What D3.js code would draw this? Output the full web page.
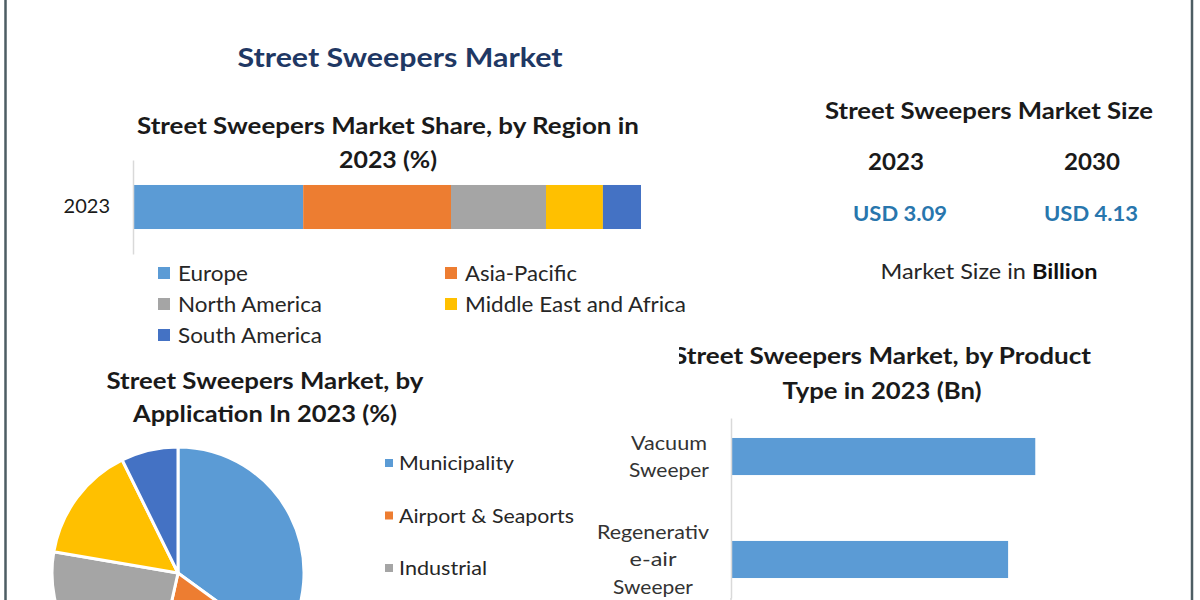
<!DOCTYPE html>
<html><head><meta charset="utf-8">
<script src="https://cdn.jsdelivr.net/npm/d3@7"></script>
<style>html,body{margin:0;padding:0;background:#fff;}svg{display:block;}</style>
</head><body>
<script>
// ---------- DATA ----------
const regionYear = ["2023"];
const regions = ["Europe", "Asia-Pacific", "North America", "Middle East and Africa", "South America"];
const regionShare = [33.5, 29.1, 18.7, 11.2, 7.5];

const sizeYears = ["2023", "2030"];
const sizeValues = ["USD 3.09", "USD 4.13"];

// only the first three application names are visible in the picture
const applications = ["Municipality", "Airport & Seaports", "Industrial"];
const applicationShare = [35.0, 18.5, 24.2, 15.0, 7.3];

const productTypes = ["Vacuum Sweeper", "Regenerative-air Sweeper"];
const productLabelLines = [["Vacuum", "Sweeper"], ["Regenerativ", "e-air", "Sweeper"]];
const productValues = [1.12, 1.02];

const palette = ["#5b9bd5", "#ed7d31", "#a5a5a5", "#ffc000", "#4472c4"];

// ---------- SETUP ----------
const W = 1200, H = 600;
const FONT = "Lato, 'Open Sans', sans-serif";
const svg = d3.select("body").append("svg").attr("width", W).attr("height", H);
svg.append("rect").attr("width", W).attr("height", H).attr("fill", "#fff");

function txt(g, s, x, y, opt) {
  const t = g.append("text").attr("x", x).attr("y", y).text(s)
    .attr("font-family", FONT)
    .attr("font-size", opt.size || 20)
    .attr("font-weight", opt.bold ? 700 : 400)
    .attr("fill", opt.fill || "#1a1a1a")
    .attr("text-anchor", opt.anchor || "start");
  if (opt.len) t.attr("textLength", opt.len).attr("lengthAdjust", "spacingAndGlyphs");
  return t;
}

// borders
svg.append("line").attr("x1", 5.5).attr("x2", 5.5).attr("y1", 0).attr("y2", H).attr("stroke", "#4d5d63").attr("stroke-width", 2.5);
svg.append("line").attr("x1", 1192).attr("x2", 1192).attr("y1", 0).attr("y2", H).attr("stroke", "#4d5d63").attr("stroke-width", 2.5);

// main title
txt(svg, "Street Sweepers Market", 400, 67, {size: 27, bold: true, fill: "#1f3864", anchor: "middle", len: 325});

// ---------- REGION STACKED BAR ----------
txt(svg, "Street Sweepers Market Share, by Region in", 388, 134, {size: 22, bold: true, anchor: "middle", len: 502});
txt(svg, "2023 (%)", 388, 168, {size: 22, bold: true, anchor: "middle", len: 98});

const xR = d3.scaleLinear().domain([0, 100]).range([133, 641]);
const yR = d3.scaleBand().domain(regionYear).range([160, 254]).padding(0.362);

const stackData = [Object.fromEntries(regions.map((r, i) => [r, regionShare[i]]))];
stackData[0].year = regionYear[0];
const series = d3.stack().keys(regions)(stackData);
svg.append("g").selectAll("rect").data(series).join("rect")
  .attr("x", d => xR(d[0][0]))
  .attr("width", d => xR(d[0][1]) - xR(d[0][0]))
  .attr("y", yR(regionYear[0]))
  .attr("height", yR.bandwidth())
  .attr("fill", (d, i) => palette[i]);

const axR = svg.append("g").attr("transform", "translate(133,0)")
  .call(d3.axisLeft(yR).tickSize(0).tickPadding(23));
axR.select(".domain").attr("stroke", "#d9d9d9").attr("stroke-width", 1.5);
axR.selectAll("text").attr("font-family", FONT).attr("font-size", 20).attr("fill", "#1a1a1a");

// legend
const legPos = [[158, 273], [445, 273], [158, 304], [445, 304], [158, 335]];
const legLens = [70, 112, 144, 221, 144];
const lg = svg.append("g");
regions.forEach((r, i) => {
  const [x, y] = legPos[i];
  lg.append("rect").attr("x", x).attr("y", y - 6).attr("width", 12).attr("height", 12).attr("fill", palette[i]);
  txt(lg, r, x + 20, y + 8, {size: 21, fill: "#262626", len: legLens[i]});
});

// ---------- MARKET SIZE ----------
txt(svg, "Street Sweepers Market Size", 989, 119, {size: 22, bold: true, anchor: "middle", len: 328});
const sizeX = [896, 1092];
sizeYears.forEach((y, i) => txt(svg, y, sizeX[i], 170, {size: 22, bold: true, anchor: "middle", len: 56}));
const valX = [900, 1091];
sizeValues.forEach((v, i) => txt(svg, v, valX[i], 221, {size: 21, bold: true, anchor: "middle", fill: "#2876ad", len: 94}));
const ms = svg.append("text").attr("x", 989).attr("y", 279).attr("text-anchor", "middle")
  .attr("font-family", FONT).attr("font-size", 21).attr("fill", "#262626")
  .attr("textLength", 217).attr("lengthAdjust", "spacingAndGlyphs");
ms.append("tspan").text("Market Size in ");
ms.append("tspan").text("Billion").attr("font-weight", 700).attr("fill", "#111");

// ---------- APPLICATION PIE ----------
txt(svg, "Street Sweepers Market, by", 265, 389, {size: 22, bold: true, anchor: "middle", len: 317});
txt(svg, "Application In 2023 (%)", 265, 422, {size: 22, bold: true, anchor: "middle", len: 264});

const pie = d3.pie().sort(null).value(d => d)(applicationShare);
const arc = d3.arc().innerRadius(0).outerRadius(126);
svg.append("g").attr("transform", "translate(178,573)")
  .selectAll("path").data(pie).join("path")
  .attr("d", arc)
  .attr("fill", (d, i) => palette[i])
  .attr("stroke", "#fff").attr("stroke-width", 3);

const pLegLens = [115, 175, 88];
applications.forEach((a, i) => {
  const y = 463 + i * 52.5;
  svg.append("rect").attr("x", 385).attr("y", y - 4).attr("width", 8).attr("height", 8).attr("fill", palette[i]);
  txt(svg, a, 399, y + 7, {size: 19, fill: "#262626", len: pLegLens[i]});
});

// ---------- PRODUCT BAR ----------
txt(svg, "Street Sweepers Market, by Product", 882, 364, {size: 22, bold: true, anchor: "middle", len: 418});
svg.append("rect").attr("x", 660).attr("y", 340).attr("width", 19).attr("height", 30).attr("fill", "#fff");
txt(svg, "Type in 2023 (Bn)", 882, 399, {size: 22, bold: true, anchor: "middle", len: 199});

const xP = d3.scaleLinear().domain([0, 1.2]).range([731, 1057]);
const yP = d3.scaleBand().domain(productTypes).range([418, 598]).paddingInner(0.64).paddingOuter(0.194);

svg.append("g").selectAll("rect").data(productValues).join("rect")
  .attr("x", xP(0))
  .attr("y", (d, i) => yP(productTypes[i]))
  .attr("width", d => xP(d) - xP(0))
  .attr("height", yP.bandwidth())
  .attr("fill", palette[0]);

const axP = svg.append("g").attr("transform", "translate(731,0)")
  .call(d3.axisLeft(yP).tickSize(0).tickFormat(""));
axP.select(".domain").attr("stroke", "#d9d9d9").attr("stroke-width", 1.5);
svg.append("line").attr("x1", 731).attr("x2", 731).attr("y1", 598).attr("y2", 600).attr("stroke", "#d9d9d9").attr("stroke-width", 1.5);
const lineLens = {"Vacuum": 76, "Sweeper": 80, "Regenerativ": 112, "e-air": 47};
productTypes.forEach((p, i) => {
  const lines = productLabelLines[i];
  const cy = yP(p) + yP.bandwidth() / 2;
  const x0 = i === 0 ? 669 : 653;
  lines.forEach((l, j) => {
    const y = cy + (j - (lines.length - 1) / 2) * 27.5 + 7;
    txt(svg, l, x0, y, {size: 19, fill: "#333", anchor: "middle", len: lineLens[l]});
  });
});
</script>
</body></html>
